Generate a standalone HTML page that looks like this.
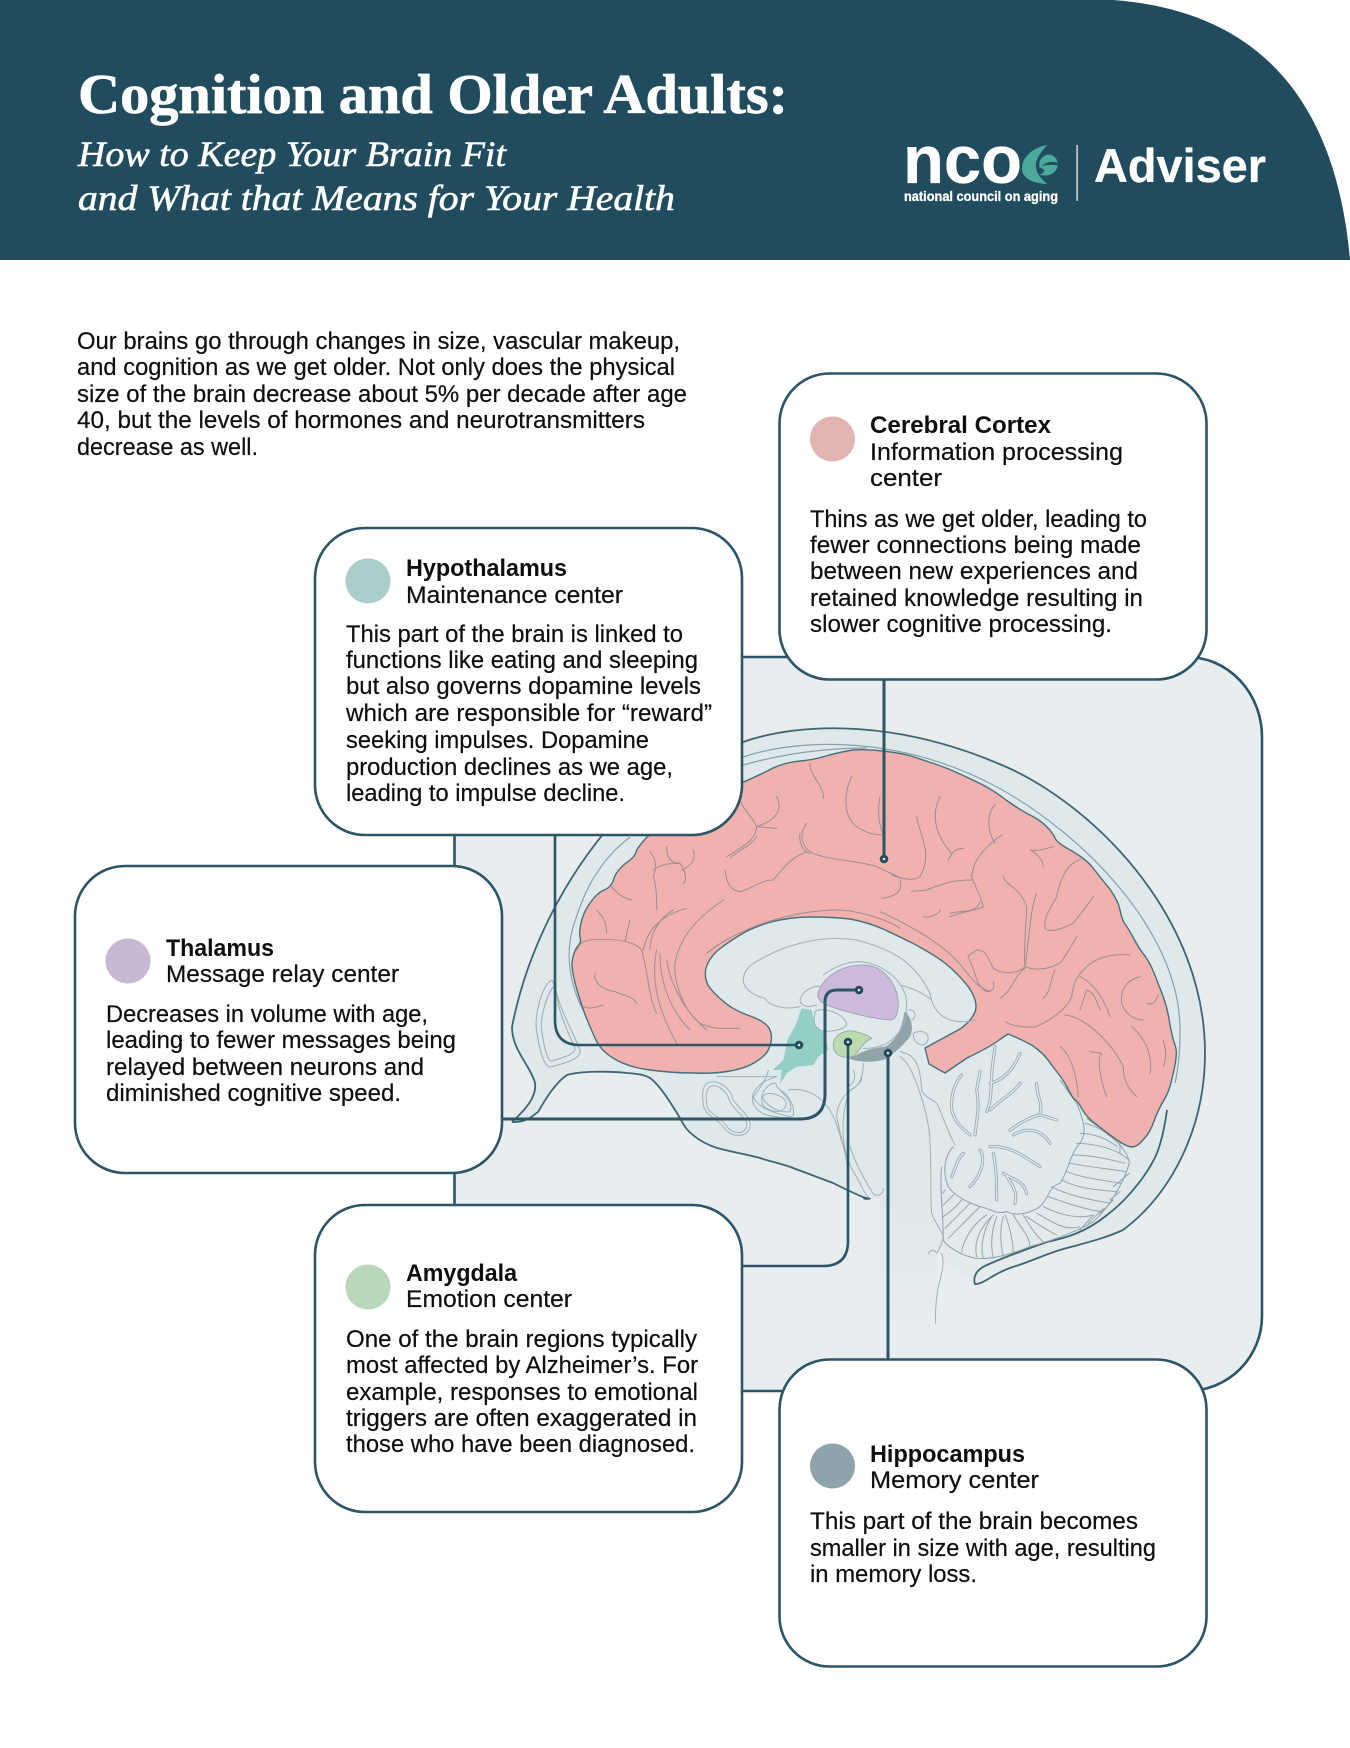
<!DOCTYPE html>
<html><head><meta charset="utf-8"><title>Cognition and Older Adults</title>
<style>
html,body{margin:0;padding:0;background:#fff}
svg{display:block}
text{font-family:"Liberation Sans",sans-serif;fill:#0e0e0e;font-size:24px;stroke:#0e0e0e;stroke-width:.2}
.b{font-weight:700;stroke-width:0}
.s{font-family:"Liberation Serif",serif;fill:#fff;stroke:#fff}
.l{fill:#fff;stroke:#fff;stroke-width:.3}
.card{fill:#fff;stroke:#2d5566;stroke-width:2.6}
.sul{fill:none;stroke:#9a8f90;stroke-width:3;stroke-linecap:round}
.gl{fill:none;stroke:#9fb0b5;stroke-width:3;stroke-linecap:round}
.con{fill:none;stroke:#2d5566;stroke-width:2.6}
.dot{fill:#dfe8ea;stroke:#24495a;stroke-width:3}
</style></head>
<body>
<svg xmlns="http://www.w3.org/2000/svg" width="1350" height="1748" viewBox="0 0 1350 1748">
<defs><linearGradient id="hf" gradientUnits="userSpaceOnUse" x1="0" y1="1190" x2="0" y2="1330"><stop offset="0" stop-color="#dfe8eb"/><stop offset="1" stop-color="#e8edef"/></linearGradient></defs>
<rect width="1350" height="1748" fill="#fff"/>
<!-- header -->
<path d="M0,0H1113C1250,10 1335,90 1350,260H0Z" fill="#204c5d"/>
<text class="s" x="78" y="113" style="font-size:56px;font-weight:700;stroke-width:.7" textLength="710" lengthAdjust="spacingAndGlyphs">Cognition and Older Adults:</text>
<text class="s" x="78" y="166" style="font-size:36px;font-style:italic;stroke-width:.6" textLength="428" lengthAdjust="spacingAndGlyphs">How to Keep Your Brain Fit</text>
<text class="s" x="78" y="210" style="font-size:36px;font-style:italic;stroke-width:.6" textLength="597" lengthAdjust="spacingAndGlyphs">and What that Means for Your Health</text>
<!-- logo -->
<text class="b l" x="903" y="183" style="font-size:68px" textLength="119" lengthAdjust="spacingAndGlyphs">nco</text>
<g transform="translate(890,130) scale(.3333)" fill="#4aa89c">
<path d="M472,45C430,52 398,80 396,112C394,142 425,160 472,162C445,140 432,118 440,92C446,75 458,60 472,45Z"/>
<path d="M448,98C455,70 495,62 503,98C485,92 465,98 455,108C470,104 490,104 503,106C500,130 475,142 448,134C465,128 470,118 448,112Z"/>
</g>
<text class="b l" x="904" y="201" style="font-size:14px" textLength="154" lengthAdjust="spacingAndGlyphs">national council on aging</text>
<rect x="1076.5" y="145" width="1.2" height="56" fill="#fff"/>
<text class="b l" x="1094" y="182" style="font-size:47px" textLength="172" lengthAdjust="spacingAndGlyphs">Adviser</text>
<!-- intro -->
<text x="77" y="349" textLength="603" lengthAdjust="spacingAndGlyphs">Our brains go through changes in size, vascular makeup,</text>
<text x="77" y="375" textLength="598" lengthAdjust="spacingAndGlyphs">and cognition as we get older. Not only does the physical</text>
<text x="77" y="402" textLength="610" lengthAdjust="spacingAndGlyphs">size of the brain decrease about 5% per decade after age</text>
<text x="77" y="428" textLength="568" lengthAdjust="spacingAndGlyphs">40, but the levels of hormones and neurotransmitters</text>
<text x="77" y="455" textLength="181" lengthAdjust="spacingAndGlyphs">decrease as well.</text>
<!-- panel -->
<path d="M454.5,657H1187A75,80 0 0 1 1262,737V1316A75,75 0 0 1 1187,1391H454.5Z" fill="#e8edef" stroke="#2d5566" stroke-width="2.6"/>
<!-- head fill -->
<path d="M512,1122C525,1110 537,1097 535,1083C530,1065 512,1050 512,1027C522,975 555,870 650,785C680,765 710,752 743,742C800,722 900,718 1013,770C1100,812 1205,920 1205,1053C1205,1130 1170,1195 1123,1230C1103,1239 1085,1243 1067,1248C1050,1252 1030,1262 1013,1267C995,1272 983,1285 975,1284L945,1262L938,1250L936,1330H880L880,1199L870,1199L863,1197C853,1193 843,1188 833,1183C820,1178 806,1173 793,1168C783,1164 772,1162 760,1158C745,1154 732,1152 717,1148C708,1145 700,1141 693,1135C688,1131 685,1128 680,1118C672,1105 660,1085 650,1078C645,1075 640,1074 627,1073C610,1071 580,1071 567,1075C555,1083 545,1100 538,1112C533,1115 527,1123 512,1122Z" fill="url(#hf)"/>
<!-- skull dark lines -->
<path d="M512,1122C525,1110 537,1097 535,1083C530,1065 512,1050 512,1027C522,975 555,870 650,785C680,765 710,752 743,742C800,722 900,718 1013,770C1100,812 1205,920 1205,1053C1205,1130 1170,1195 1123,1230C1103,1239 1085,1243 1067,1248C1050,1252 1030,1262 1013,1267C995,1272 983,1285 975,1284C973,1278 975,1270 987,1265C1000,1259 1030,1248 1047,1242C1065,1238 1085,1233 1107,1215C1130,1198 1150,1170 1157,1153C1162,1140 1165,1125 1167,1110" fill="none" stroke="#3f6472" stroke-width="1.8"/>
<path d="M512,1122C527,1123 533,1115 538,1112C545,1100 555,1083 567,1075C580,1071 610,1071 627,1073C640,1074 645,1075 650,1078C660,1085 672,1105 680,1118C685,1128 688,1131 693,1135C700,1141 708,1145 717,1148C732,1152 745,1154 760,1158C772,1162 783,1164 793,1168C806,1173 820,1178 833,1183C843,1188 853,1193 863,1197L870,1199" fill="none" stroke="#3f6472" stroke-width="1.8"/>
<!-- inner dome grey lines -->
<path d="M583,1010C570,985 565,955 573,927C580,905 588,885 597,873C608,855 620,845 630,837M743,757C800,738 900,735 997,787C1080,832 1180,930 1180,1030C1180,1050 1178,1070 1175,1083M743,765C790,752 830,748 867,748" fill="none" stroke="#8aa0a8" stroke-width="1.2"/>
<!-- cerebellum -->
<g transform="translate(880,1040) scale(.3333)" fill="none">
<path d="M185,380C178,440 190,520 190,600C200,620 250,650 290,655C340,660 400,640 450,620C520,600 590,575 640,545C690,500 730,430 748,370C745,330 700,290 620,235" stroke="#8fa1a7" stroke-width="3"/>
<g class="gl" style="stroke:#95a6ab">
<path d="M720,310V340L748,360M700,440L748,400M690,480L720,455M660,520L700,480M625,550L670,505M600,570L640,525"/>
<path d="M615,250C640,255 670,270 690,290M600,280C640,280 680,295 712,320M590,310C630,310 680,320 720,340M578,345C630,345 680,355 735,370M570,370C620,380 680,385 738,395M560,395C610,415 670,420 722,430M545,420C590,445 650,450 708,455M515,440C570,470 640,480 690,490M505,470C560,490 620,510 665,515M490,500C530,520 590,540 640,525M470,520C510,540 550,575 600,560M440,530C470,550 500,570 530,585"/>
<path d="M430,525C450,560 470,590 490,605M400,525C420,560 450,590 450,620M375,525C390,560 400,610 400,640M370,530C360,560 360,610 370,650M350,530C335,570 330,610 340,655M335,530C310,570 300,620 310,655M340,525C300,560 280,610 290,650M320,525C280,550 250,600 245,635"/>
<path d="M300,500C270,530 235,565 205,595M270,490C250,510 220,540 195,565M245,480C230,500 210,515 190,530M220,465C210,475 200,485 190,495M195,450L188,460"/>
</g>
<path d="M220,320C195,345 185,395 205,440C225,470 260,485 300,500C330,505 350,525 380,515C410,530 450,520 480,500C510,470 505,440 540,430C565,395 570,340 600,310C620,280 615,250 590,190L540,120" stroke="#8fa1a7" stroke-width="3"/>
<!-- arbor: double lines -->
<g stroke="#8fa1a7" stroke-width="9" stroke-linecap="round">
<path d="M270,285C240,260 210,230 215,190C215,160 225,130 245,105M285,285C290,240 300,200 290,150L300,95M320,215C340,170 330,110 340,60L345,20M330,130C370,120 400,90 420,40M330,210C360,180 400,160 420,130M390,270C420,250 450,230 480,225L530,240M480,220C490,190 470,170 470,130M400,285C430,265 480,260 510,310M330,320C380,315 420,340 480,380M300,330C320,360 300,410 270,440M250,340C230,360 225,390 215,410M340,340C350,390 350,430 350,480M370,400C400,420 430,420 440,460M380,410C410,450 410,470 405,490"/>
</g>
<g stroke="#dfe8eb" stroke-width="4.5" stroke-linecap="round">
<path d="M270,285C240,260 210,230 215,190C215,160 225,130 245,105M285,285C290,240 300,200 290,150L300,95M320,215C340,170 330,110 340,60L345,20M330,130C370,120 400,90 420,40M330,210C360,180 400,160 420,130M390,270C420,250 450,230 480,225L530,240M480,220C490,190 470,170 470,130M400,285C430,265 480,260 510,310M330,320C380,315 420,340 480,380M300,330C320,360 300,410 270,440M250,340C230,360 225,390 215,410M340,340C350,390 350,430 350,480M370,400C400,420 430,420 440,460M380,410C410,450 410,470 405,490"/>
</g>
<path class="gl" d="M60,50C90,70 100,110 110,130C135,200 150,260 150,310C155,400 150,470 155,520C165,550 185,570 190,590C185,610 178,630 170,640C160,625 150,630 145,642M185,640C195,670 185,700 175,740C168,780 165,820 167,850M60,35C100,45 120,60 125,150C130,170 160,180 170,190C190,230 200,270 225,315"/>
</g>
<!-- cerebrum -->
<path d="M770,1030Q767,1022 750,1016Q733,1010 723,1001Q713,993 708,985Q704,977 706,968Q708,960 717,951Q727,943 740,935Q753,927 771,922Q790,917 811,917Q833,917 850,919Q867,922 883,929Q900,937 906,940Q913,943 930,953Q947,963 958,975Q970,987 974,997Q978,1007 974,1014Q970,1022 960,1029L925,1048L929,1064L945,1073L967,1058Q990,1047 999,1040L1008,1034Q1023,1040 1033,1046Q1043,1053 1048,1060Q1053,1067 1057,1072Q1062,1078 1067,1087Q1072,1097 1074,1099Q1077,1100 1082,1109Q1087,1118 1097,1125Q1107,1133 1117,1140Q1127,1147 1132,1147Q1137,1147 1143,1140Q1150,1133 1154,1121Q1158,1110 1164,1100Q1170,1090 1172,1078Q1175,1067 1176,1058Q1177,1050 1175,1045Q1173,1040 1170,1025Q1168,1010 1163,996Q1158,983 1154,973Q1150,963 1145,956Q1140,950 1134,939Q1128,928 1125,924Q1122,920 1120,910Q1118,900 1109,888Q1100,877 1093,868Q1087,860 1072,851Q1057,843 1055,838Q1053,833 1046,826Q1040,820 1030,815Q1020,810 1006,800Q993,790 983,785Q973,780 960,774Q947,768 935,764Q923,760 911,756Q900,753 883,751Q867,749 853,750Q840,752 826,756Q813,760 800,761Q787,762 773,768Q760,775 730,788L700,800L647,837Q637,848 636,852Q635,857 626,863Q617,870 614,878Q612,887 604,890Q597,893 590,903Q583,913 581,923Q579,933 580,937Q582,942 577,947Q573,953 572,963Q572,973 577,990Q582,1007 586,1017Q590,1027 595,1038Q600,1050 613,1058Q627,1067 650,1070Q673,1073 693,1073Q713,1074 730,1071Q747,1068 757,1061Q767,1055 770,1046Q773,1037 770,1030Z" fill="#f0b1af" stroke="#47707a" stroke-width="1.4" stroke-linejoin="round"/>
<!-- sulci left -->
<g transform="translate(500,720) scale(.3333)">
<path class="sul" d="M930,130C930,170 975,200 970,235M1055,170C1030,220 1030,290 1070,320C1090,335 1120,345 1150,345M1140,230C1130,280 1140,320 1150,345M830,230C850,270 830,300 770,320L830,325M770,320C770,350 750,370 680,410M770,350C750,380 710,395 690,415M720,240C730,270 750,280 770,320M900,340C895,380 920,400 930,400M920,310C900,340 900,370 930,395C970,420 1070,420 1130,440C1170,460 1200,470 1200,475M920,395C880,410 860,430 820,480C780,480 750,510 720,515C690,510 680,490 675,450M450,395C470,420 470,440 460,470C470,500 470,530 470,570M500,380C500,410 510,430 540,430C560,460 560,480 550,490M580,390C590,420 570,440 545,450M460,450C490,430 510,430 540,430M430,690C440,640 470,590 560,565M450,690C450,650 470,600 520,570M670,540C610,580 540,640 525,730C520,800 560,880 600,910C640,930 680,925 720,925M425,690C400,660 340,655 270,660C245,665 240,670 230,690M285,760C280,790 310,810 345,815C380,830 400,830 410,850M480,700C480,770 500,860 570,930M500,720C510,790 550,870 620,930M470,690C450,790 480,880 530,970M620,700C720,620 880,570 1020,570C1100,575 1180,610 1200,625M390,600C385,620 380,640 375,665M335,500C350,520 370,535 395,540M320,640C320,610 310,590 290,570M250,860C270,870 290,860 310,855M425,690C445,760 445,830 470,880"/>
</g>
<!-- sulci right -->
<g transform="translate(880,720) scale(.3333)">
<path class="sul" d="M110,290C120,350 160,400 120,470C100,485 60,475 35,465M180,230C150,290 170,350 215,400M250,385C225,385 215,400 205,420M345,255C320,280 320,330 345,370M365,345C330,370 280,410 275,470C280,490 300,520 310,560C300,570 260,570 210,590M275,480C220,480 190,490 140,510C120,515 100,510 95,515M60,480C70,510 50,530 5,535M450,390C470,400 490,420 490,440M520,380C500,385 470,395 450,390M600,420C560,430 540,480 530,530C510,570 490,590 495,625C510,640 550,625 580,610C610,570 620,560 640,530M370,470C380,500 420,500 440,560C440,600 430,680 435,740C420,755 380,770 340,745C320,710 320,690 290,690C280,700 260,705 265,715M265,715C290,750 280,790 320,815C340,815 345,800 340,785M470,520C450,570 450,640 435,740C470,755 520,745 545,725C560,700 580,670 590,650M435,745C400,770 400,810 360,835M525,750C510,780 515,810 490,835M750,705C690,700 640,715 610,750C590,770 580,790 575,830C560,870 510,900 470,920C430,925 390,915 375,905M600,770C640,790 670,830 690,890M780,770C740,780 720,810 725,850C735,880 760,900 790,900M800,850C820,855 825,850 835,825M620,810L600,870M620,810C640,815 650,840 660,870M555,885C610,890 690,960 730,1040C730,1090 750,1110 770,1130M755,920C790,950 820,1000 810,1060M850,960C860,1000 860,1010 850,1040M665,1000C650,1010 660,1080 680,1130M540,980C570,1000 590,1060 595,1130M630,995L665,1000M0,575C100,620 200,680 250,745C270,770 290,800 330,815M130,590C150,595 180,580 180,570M210,580C250,570 290,580 300,545"/>
</g>
<!-- inner structures -->
<g transform="translate(700,930) scale(.3333)">
<path d="M616,245C635,265 642,295 630,320C610,345 590,365 555,388C520,398 480,398 445,385L470,375C490,362 520,354 555,350C585,335 608,295 612,250Z" fill="#8fa3a9"/>
<path d="M305,235L335,240L345,285L375,310L385,360L355,380L340,405L290,410L260,430L240,462L245,420L218,420L250,390L262,330L285,290Z" fill="#93cfc5"/>
<path class="gl" d="M130,150C130,110 170,95 195,80C270,40 370,15 470,30C560,55 640,85 690,190C700,250 740,290 830,270M130,150C130,180 170,200 195,205C210,230 260,240 300,230M300,210C310,175 350,165 370,170M300,210C300,225 320,235 350,225M345,250C340,230 420,235 440,280C440,300 380,310 360,300C340,290 340,270 345,250M370,135C410,105 450,95 480,95C540,100 600,140 618,200C625,260 610,310 560,340C530,355 510,355 490,355M600,165C640,175 670,190 695,210M640,310C680,290 700,330 670,345C650,345 640,330 640,310M625,240C650,235 650,265 635,270M205,420C200,450 175,480 160,500C170,530 220,550 270,560M185,500C190,470 230,445 230,470C260,500 280,520 270,545C240,550 200,530 185,500M265,480C330,470 380,510 405,570C425,630 445,690 445,750M490,400C490,440 480,470 450,480C430,530 420,600 440,680"/>
<path d="M355,185C375,140 420,105 490,105C550,105 590,160 595,215C595,245 590,270 570,270C510,265 430,245 380,225C360,215 350,205 355,185Z" fill="#cdb9db" stroke="#8fa0a6" stroke-width="2.5"/>
<path d="M400,345C400,320 425,300 460,303C490,310 510,320 515,325C490,335 485,355 465,375C440,390 400,380 400,345Z" fill="#bcdcb0" stroke="#8fa6a0" stroke-width="2.5"/>
</g>
<!-- sinuses -->
<g fill="none" stroke="#9fb0b5" stroke-width="1.1">
<path d="M552,980C543,983 533,1016 537,1033C540,1053 545,1067 550,1067C567,1063 582,1058 580,1050C572,1030 560,1010 555,987Z"/>
<path d="M556,984C548,990 539,1018 542,1032C544,1048 548,1061 551,1061C563,1058 576,1054 575,1048C567,1030 558,1012 556,990Z"/>
</g>
<g transform="translate(500,1040) scale(.3333)" fill="none">
<path class="gl" d="M620,130C650,115 690,140 700,180C720,210 755,230 750,260C745,295 690,295 670,260C650,235 610,225 610,190C605,160 610,140 620,130Z"/>
<path class="gl" d="M630,140C650,130 680,150 690,185C705,215 745,235 740,258C735,285 695,285 678,255C660,230 620,220 620,190C615,165 620,150 630,140Z"/>
<path class="gl" d="M830,110C800,120 780,125 760,160C750,190 770,215 800,225C830,232 870,238 880,225C885,190 860,160 840,150M830,110L650,110M785,180C790,150 830,160 850,175C870,195 850,215 830,215C800,210 785,200 785,180M1010,230C1025,300 1040,370 1070,410C1085,440 1095,465 1110,475M1085,110C1090,130 1050,150 1040,160C1020,180 1010,210 1010,230M1050,320C1070,380 1100,430 1120,462C1130,470 1150,465 1150,445M1040,140C1060,135 1070,115 1060,90"/>
<path d="M1090,475C1098,480 1105,478 1112,475" stroke="#3f6472" stroke-width="4"/>
</g>
<!-- connectors -->
<path class="con" style="stroke-width:3" d="M884,680V859"/>
<path class="con" d="M555,835V1020Q555,1045 580,1045H799"/>
<path class="con" d="M503,1119H800Q825,1119 825,1094V1002Q825,990 837,990H859" style="stroke-width:3"/>
<path class="con" d="M848,1042V1241Q848,1266 823,1266H742"/>
<path class="con" style="stroke-width:3" d="M888,1053V1359"/>
<circle class="dot" cx="884" cy="859" r="2.8"/>
<circle class="dot" cx="799" cy="1045" r="2.8"/>
<circle class="dot" cx="859" cy="990" r="2.8"/>
<circle class="dot" cx="848" cy="1042" r="2.8"/>
<circle class="dot" cx="888" cy="1053" r="2.8"/>
<!-- Cerebral Cortex -->
<rect class="card" x="779.5" y="373.5" width="427" height="306" rx="50"/>
<circle cx="832.5" cy="439" r="22.5" fill="#e3b5b2"/>
<text class="b" x="870" y="433" textLength="181" lengthAdjust="spacingAndGlyphs">Cerebral Cortex</text>
<text x="870" y="460" textLength="253" lengthAdjust="spacingAndGlyphs">Information processing</text>
<text x="870" y="486" textLength="72" lengthAdjust="spacingAndGlyphs">center</text>
<text x="810" y="527" textLength="337" lengthAdjust="spacingAndGlyphs">Thins as we get older, leading to</text>
<text x="810" y="553" textLength="331" lengthAdjust="spacingAndGlyphs">fewer connections being made</text>
<text x="810" y="579" textLength="328" lengthAdjust="spacingAndGlyphs">between new experiences and</text>
<text x="810" y="606" textLength="333" lengthAdjust="spacingAndGlyphs">retained knowledge resulting in</text>
<text x="810" y="632" textLength="302" lengthAdjust="spacingAndGlyphs">slower cognitive processing.</text>
<!-- Hypothalamus -->
<rect class="card" x="315" y="528" width="427" height="307" rx="50"/>
<circle cx="368" cy="581" r="22.5" fill="#aacfcb"/>
<text class="b" x="406" y="576" textLength="161" lengthAdjust="spacingAndGlyphs">Hypothalamus</text>
<text x="406" y="603" textLength="217" lengthAdjust="spacingAndGlyphs">Maintenance center</text>
<text x="346" y="642" textLength="337" lengthAdjust="spacingAndGlyphs">This part of the brain is linked to</text>
<text x="346" y="668" textLength="352" lengthAdjust="spacingAndGlyphs">functions like eating and sleeping</text>
<text x="346" y="694" textLength="355" lengthAdjust="spacingAndGlyphs">but also governs dopamine levels</text>
<text x="346" y="721" textLength="366" lengthAdjust="spacingAndGlyphs">which are responsible for “reward”</text>
<text x="346" y="748" textLength="303" lengthAdjust="spacingAndGlyphs">seeking impulses. Dopamine</text>
<text x="346" y="775" textLength="327" lengthAdjust="spacingAndGlyphs">production declines as we age,</text>
<text x="346" y="801" textLength="279" lengthAdjust="spacingAndGlyphs">leading to impulse decline.</text>
<!-- Thalamus -->
<rect class="card" x="75" y="866" width="427" height="307" rx="50"/>
<circle cx="128" cy="961" r="22.5" fill="#c7b9d3"/>
<text class="b" x="166" y="956" textLength="108" lengthAdjust="spacingAndGlyphs">Thalamus</text>
<text x="166" y="982" textLength="233" lengthAdjust="spacingAndGlyphs">Message relay center</text>
<text x="106" y="1022" textLength="322" lengthAdjust="spacingAndGlyphs">Decreases in volume with age,</text>
<text x="106" y="1048" textLength="350" lengthAdjust="spacingAndGlyphs">leading to fewer messages being</text>
<text x="106" y="1075" textLength="318" lengthAdjust="spacingAndGlyphs">relayed between neurons and</text>
<text x="106" y="1101" textLength="295" lengthAdjust="spacingAndGlyphs">diminished cognitive speed.</text>
<!-- Amygdala -->
<rect class="card" x="315" y="1205" width="427" height="307" rx="50"/>
<circle cx="368" cy="1287" r="22.5" fill="#b9d8b9"/>
<text class="b" x="406" y="1281" textLength="111" lengthAdjust="spacingAndGlyphs">Amygdala</text>
<text x="406" y="1307" textLength="166" lengthAdjust="spacingAndGlyphs">Emotion center</text>
<text x="346" y="1347" textLength="351" lengthAdjust="spacingAndGlyphs">One of the brain regions typically</text>
<text x="346" y="1373" textLength="352" lengthAdjust="spacingAndGlyphs">most affected by Alzheimer’s. For</text>
<text x="346" y="1400" textLength="352" lengthAdjust="spacingAndGlyphs">example, responses to emotional</text>
<text x="346" y="1426" textLength="351" lengthAdjust="spacingAndGlyphs">triggers are often exaggerated in</text>
<text x="346" y="1452" textLength="349" lengthAdjust="spacingAndGlyphs">those who have been diagnosed.</text>
<!-- Hippocampus -->
<rect class="card" x="779.5" y="1359.5" width="427" height="307" rx="50"/>
<circle cx="832.5" cy="1466" r="22.5" fill="#8fa3ad"/>
<text class="b" x="870" y="1462" textLength="155" lengthAdjust="spacingAndGlyphs">Hippocampus</text>
<text x="870" y="1488" textLength="169" lengthAdjust="spacingAndGlyphs">Memory center</text>
<text x="810" y="1529" textLength="328" lengthAdjust="spacingAndGlyphs">This part of the brain becomes</text>
<text x="810" y="1556" textLength="346" lengthAdjust="spacingAndGlyphs">smaller in size with age, resulting</text>
<text x="810" y="1582" textLength="167" lengthAdjust="spacingAndGlyphs">in memory loss.</text>
</svg>
</body></html>
